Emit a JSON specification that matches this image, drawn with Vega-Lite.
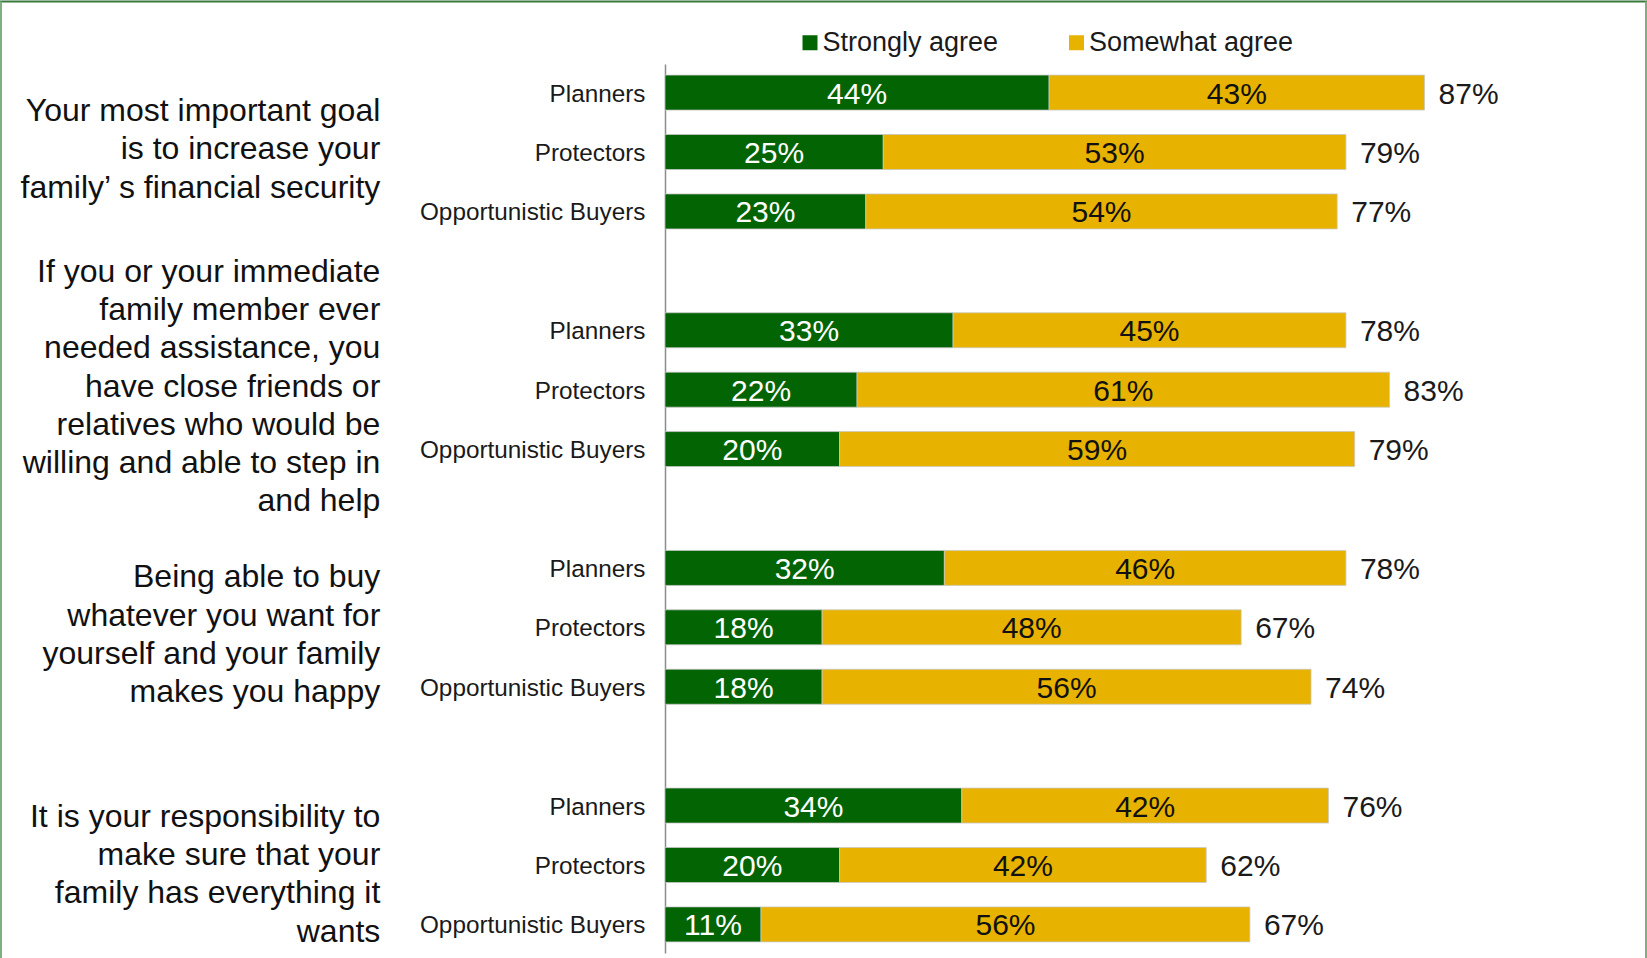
{
  "$schema": "https://vega.github.io/schema/vega-lite/v6.json",
  "autosize": {"type": "none"},
  "padding": {"left": 665, "top": 64, "right": 109, "bottom": 5},
  "width": 873,
  "height": 889,
  "background": "white",
  "config": {"view": {"stroke": null}, "font": "Liberation Sans"},
  "datasets": {
    "rows": [
      {"row": "1|Planners", "Strongly agree": 0.44, "Somewhat agree": 0.43, "total": 0.87},
      {"row": "1|Protectors", "Strongly agree": 0.25, "Somewhat agree": 0.53, "total": 0.79},
      {"row": "1|Opportunistic Buyers", "Strongly agree": 0.23, "Somewhat agree": 0.54, "total": 0.77},
      {"row": "2|Planners", "Strongly agree": 0.33, "Somewhat agree": 0.45, "total": 0.78},
      {"row": "2|Protectors", "Strongly agree": 0.22, "Somewhat agree": 0.61, "total": 0.83},
      {"row": "2|Opportunistic Buyers", "Strongly agree": 0.20, "Somewhat agree": 0.59, "total": 0.79},
      {"row": "3|Planners", "Strongly agree": 0.32, "Somewhat agree": 0.46, "total": 0.78},
      {"row": "3|Protectors", "Strongly agree": 0.18, "Somewhat agree": 0.48, "total": 0.67},
      {"row": "3|Opportunistic Buyers", "Strongly agree": 0.18, "Somewhat agree": 0.56, "total": 0.74},
      {"row": "4|Planners", "Strongly agree": 0.34, "Somewhat agree": 0.42, "total": 0.76},
      {"row": "4|Protectors", "Strongly agree": 0.20, "Somewhat agree": 0.42, "total": 0.62},
      {"row": "4|Opportunistic Buyers", "Strongly agree": 0.11, "Somewhat agree": 0.56, "total": 0.67}
    ],
    "questions": [
      {"row": "1|Planners", "q": "Your most important goal\nis to increase your\nfamily’ s financial security"},
      {"row": "g1|", "q": "If you or your immediate\nfamily member ever\nneeded assistance, you\nhave close friends or\nrelatives who would be\nwilling and able to step in\nand help"},
      {"row": "3|Planners", "q": "Being able to buy\nwhatever you want for\nyourself and your family\nmakes you happy"},
      {"row": "4|Planners", "q": "It is your responsibility to\nmake sure that your\nfamily has everything it\nwants"}
    ]
  },
  "resolve": {"scale": {"y": "independent"}, "axis": {"y": "independent"}},
  "layer": [
    {
      "encoding": {
        "y": {
          "field": "row",
          "type": "nominal",
          "title": null,
          "scale": {
            "domain": ["1|Planners", "1|Protectors", "1|Opportunistic Buyers", "g1|",
                       "2|Planners", "2|Protectors", "2|Opportunistic Buyers", "g2|",
                       "3|Planners", "3|Protectors", "3|Opportunistic Buyers", "g3|",
                       "4|Planners", "4|Protectors", "4|Opportunistic Buyers"],
            "paddingInner": 0.411,
            "paddingOuter": 0.187
          },
          "axis": {
            "title": null,
            "orient": "left",
            "ticks": false,
            "grid": false,
            "labelExpr": "split(datum.value, '|')[1]",
            "labelFont": "Liberation Sans",
            "labelFontSize": 24.3,
            "labelColor": "#1a1a1a",
            "labelPadding": 20,
            "labelLimit": 400,
            "labelOffset": 2,
            "domainColor": "#8c8c8c",
            "domainWidth": 1.5
          }
        }
      },
      "layer": [
        {
          "data": {"name": "rows"},
          "transform": [
            {"fold": ["Strongly agree", "Somewhat agree"], "as": ["type", "pct"]},
            {"stack": "pct", "groupby": ["row"], "sort": [{"field": "type", "order": "descending"}], "as": ["x0", "x1"]}
          ],
          "mark": {"type": "bar", "stroke": "#c8c8c8", "strokeWidth": 0.75},
          "encoding": {
            "x": {"field": "x0", "type": "quantitative", "scale": {"domain": [0, 1], "nice": false, "zero": true}, "axis": null},
            "x2": {"field": "x1"},
            "color": {
              "field": "type",
              "type": "nominal",
              "scale": {"domain": ["Strongly agree", "Somewhat agree"], "range": ["#036403", "#E8B200"]},
              "legend": {
                "orient": "none",
                "legendX": 131.5,
                "legendY": -35,
                "direction": "horizontal",
                "title": null,
                "symbolType": "square",
                "symbolSize": 225,
                "symbolStrokeWidth": 0,
                "labelFont": "Liberation Sans",
                "labelFontSize": 27,
                "labelColor": "#1a1a1a",
                "labelLimit": 400,
                "labelOffset": -1,
                "columnPadding": 64.5,
                "padding": 0
              }
            }
          }
        },
        {
          "data": {"name": "rows"},
          "transform": [
            {"fold": ["Strongly agree", "Somewhat agree"], "as": ["type", "pct"]},
            {"stack": "pct", "groupby": ["row"], "sort": [{"field": "type", "order": "descending"}], "as": ["x0", "x1"]},
            {"fold": ["x0", "x1"], "as": ["edge", "pos"]},
            {"aggregate": [{"op": "mean", "field": "pos", "as": "mid"}], "groupby": ["row", "type", "pct"]}
          ],
          "mark": {"type": "text", "font": "Liberation Sans", "fontSize": 30, "align": "center", "baseline": "middle", "dy": 2},
          "encoding": {
            "x": {"field": "mid", "type": "quantitative", "scale": {"domain": [0, 1], "nice": false, "zero": true}, "axis": null},
            "text": {"field": "pct", "type": "quantitative", "format": ".0%"},
            "color": {"condition": {"test": "datum.type === 'Strongly agree'", "value": "white"}, "value": "#111111"}
          }
        },
        {
          "data": {"name": "rows"},
          "transform": [
            {"fold": ["Strongly agree", "Somewhat agree"], "as": ["type", "pct"]},
            {"stack": "pct", "groupby": ["row"], "sort": [{"field": "type", "order": "descending"}], "as": ["x0", "x1"]},
            {"filter": "datum.type === 'Somewhat agree'"}
          ],
          "mark": {"type": "text", "font": "Liberation Sans", "fontSize": 30, "align": "left", "baseline": "middle", "dx": 14, "dy": 2, "color": "#1a1a1a"},
          "encoding": {
            "x": {"field": "x1", "type": "quantitative", "scale": {"domain": [0, 1], "nice": false, "zero": true}, "axis": null},
            "text": {"field": "total", "type": "quantitative", "format": ".0%"}
          }
        },
        {
          "data": {"name": "questions"},
          "transform": [{"filter": "datum.row === '1|Planners'"}],
          "mark": {"type": "text", "font": "Liberation Sans", "fontSize": 32, "align": "right", "baseline": "middle", "lineBreak": "\n", "lineHeight": 38.3, "dy": 18.4, "color": "#111111"},
          "encoding": {
            "x": {"datum": -0.3261, "type": "quantitative", "scale": {"domain": [0, 1], "nice": false, "zero": true}, "axis": null},
            "text": {"field": "q", "type": "nominal"}
          }
        },
        {
          "data": {"name": "questions"},
          "transform": [{"filter": "datum.row === 'g1|'"}],
          "mark": {"type": "text", "font": "Liberation Sans", "fontSize": 32, "align": "right", "baseline": "middle", "lineBreak": "\n", "lineHeight": 38.3, "dy": 0.8, "color": "#111111"},
          "encoding": {
            "x": {"datum": -0.3261, "type": "quantitative", "scale": {"domain": [0, 1], "nice": false, "zero": true}, "axis": null},
            "text": {"field": "q", "type": "nominal"}
          }
        },
        {
          "data": {"name": "questions"},
          "transform": [{"filter": "datum.row === '3|Planners'"}],
          "mark": {"type": "text", "font": "Liberation Sans", "fontSize": 32, "align": "right", "baseline": "middle", "lineBreak": "\n", "lineHeight": 38.3, "dy": 9.4, "color": "#111111"},
          "encoding": {
            "x": {"datum": -0.3261, "type": "quantitative", "scale": {"domain": [0, 1], "nice": false, "zero": true}, "axis": null},
            "text": {"field": "q", "type": "nominal"}
          }
        },
        {
          "data": {"name": "questions"},
          "transform": [{"filter": "datum.row === '4|Planners'"}],
          "mark": {"type": "text", "font": "Liberation Sans", "fontSize": 32, "align": "right", "baseline": "middle", "lineBreak": "\n", "lineHeight": 38.3, "dy": 11.3, "color": "#111111"},
          "encoding": {
            "x": {"datum": -0.3261, "type": "quantitative", "scale": {"domain": [0, 1], "nice": false, "zero": true}, "axis": null},
            "text": {"field": "q", "type": "nominal"}
          }
        }
      ]
    },
    {
      "data": {"values": [{"edge": "top"}]},
      "layer": [
        {
          "mark": {"type": "rule", "color": "#3b783b", "strokeWidth": 2},
          "encoding": {
            "x": {"datum": -0.7617, "type": "quantitative", "scale": {"domain": [0, 1], "nice": false, "zero": true}, "axis": null},
            "x2": {"datum": 1.1249},
            "y": {"datum": 1.0703, "type": "quantitative", "scale": {"domain": [0, 1], "nice": false, "zero": false}, "axis": null}
          }
        },
        {
          "mark": {"type": "rule", "color": "#7fae7f", "strokeWidth": 2},
          "encoding": {
            "x": {"datum": -0.7606, "type": "quantitative", "scale": {"domain": [0, 1], "nice": false, "zero": true}, "axis": null},
            "y": {"datum": 1.0703, "type": "quantitative", "scale": {"domain": [0, 1], "nice": false, "zero": false}, "axis": null},
            "y2": {"datum": -0.0056}
          }
        },
        {
          "mark": {"type": "rule", "color": "#7fae7f", "strokeWidth": 2},
          "encoding": {
            "x": {"datum": 1.1237, "type": "quantitative", "scale": {"domain": [0, 1], "nice": false, "zero": true}, "axis": null},
            "y": {"datum": 1.0703, "type": "quantitative", "scale": {"domain": [0, 1], "nice": false, "zero": false}, "axis": null},
            "y2": {"datum": -0.0056}
          }
        }
      ]
    }
  ]
}
